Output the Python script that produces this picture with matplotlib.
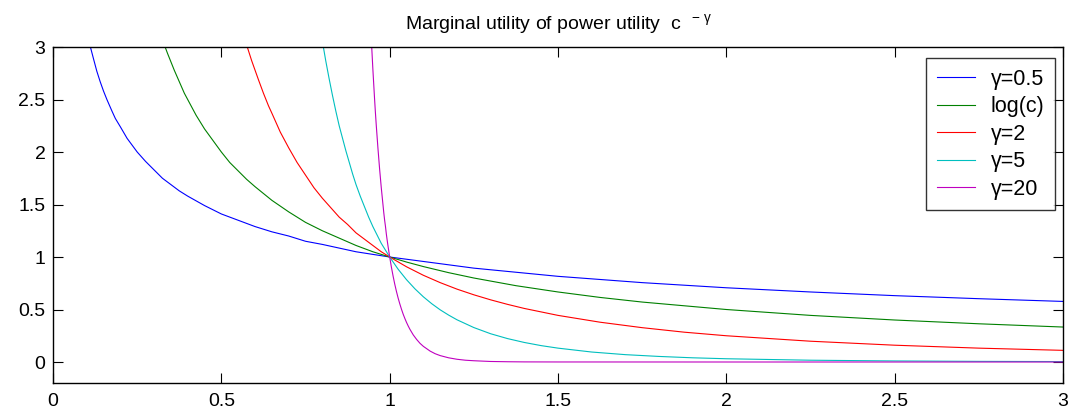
import matplotlib
matplotlib.use("Agg")
import matplotlib.pyplot as plt

plt.rcParams['font.family'] = ['Liberation Sans', 'DejaVu Sans']
plt.rcParams['mathtext.fontset'] = 'custom'
plt.rcParams['mathtext.rm'] = 'Liberation Sans'
plt.rcParams['mathtext.it'] = 'Liberation Sans'

# values: c on the x axis, marginal utility on the y axis
c_05 = [0.111, 0.12, 0.13, 0.14, 0.15, 0.16, 0.175, 0.185, 0.2, 0.22, 0.25, 0.275, 0.3, 0.325,
        0.35, 0.375, 0.4, 0.45, 0.5, 0.55, 0.6, 0.65, 0.7, 0.75, 0.8, 0.9, 1.0, 1.25, 1.5, 1.75,
        2.0, 2.25, 2.5, 2.75, 3.0]
u_05 = [3.00, 2.89, 2.77, 2.67, 2.58, 2.50, 2.39, 2.32, 2.24, 2.13, 2.00, 1.91, 1.83, 1.75,
        1.69, 1.63, 1.58, 1.49, 1.41, 1.35, 1.29, 1.24, 1.20, 1.15, 1.12, 1.05, 1.00, 0.894, 0.816, 0.756,
        0.707, 0.667, 0.632, 0.603, 0.577]

c_log = [0.333, 0.34, 0.35, 0.36, 0.375, 0.39, 0.4, 0.425, 0.45, 0.475, 0.5, 0.525, 0.55, 0.575,
         0.6, 0.65, 0.7, 0.75, 0.8, 0.85, 0.9, 0.95, 1.0, 1.05, 1.1, 1.175, 1.25, 1.375, 1.5, 1.625,
         1.75, 2.0, 2.25, 2.5, 2.75, 3.0]
u_log = [3.00, 2.94, 2.86, 2.78, 2.67, 2.56, 2.50, 2.35, 2.22, 2.11, 2.00, 1.90, 1.82, 1.74,
         1.67, 1.54, 1.43, 1.33, 1.25, 1.18, 1.11, 1.05, 1.00, 0.952, 0.909, 0.851, 0.80, 0.727, 0.667, 0.615,
         0.571, 0.50, 0.444, 0.40, 0.364, 0.333]

c_2 = [0.577, 0.59, 0.6, 0.61, 0.625, 0.64, 0.65, 0.675, 0.7, 0.725, 0.75, 0.775, 0.8, 0.825,
       0.85, 0.875, 0.9, 0.925, 0.95, 0.975, 1.0, 1.05, 1.1, 1.15, 1.2, 1.25, 1.3, 1.35, 1.4, 1.5,
       1.625, 1.75, 1.875, 2.0, 2.25, 2.5, 2.75, 3.0]
u_2 = [3.00, 2.87, 2.78, 2.69, 2.56, 2.44, 2.37, 2.19, 2.04, 1.90, 1.78, 1.66, 1.56, 1.47,
       1.38, 1.31, 1.23, 1.17, 1.11, 1.05, 1.00, 0.907, 0.826, 0.756, 0.694, 0.64, 0.592, 0.549, 0.510, 0.444,
       0.379, 0.327, 0.284, 0.25, 0.198, 0.16, 0.132, 0.111]

c_5 = [0.803, 0.81, 0.82, 0.83, 0.84, 0.85, 0.86, 0.87, 0.88, 0.89, 0.9, 0.9125, 0.925, 0.9375,
       0.95, 0.9625, 0.975, 0.9875, 1.0, 1.025, 1.05, 1.075, 1.1, 1.125, 1.15, 1.175, 1.2, 1.25,
       1.3, 1.35, 1.4, 1.45, 1.5, 1.6, 1.7, 1.8, 1.9, 2.0, 2.25, 2.5, 2.75, 3.0]
u_5 = [3.00, 2.87, 2.70, 2.54, 2.39, 2.25, 2.13, 2.01, 1.90, 1.79, 1.69, 1.58, 1.48, 1.38,
       1.29, 1.21, 1.13, 1.065, 1.00, 0.884, 0.784, 0.697, 0.621, 0.555, 0.497, 0.447, 0.402, 0.328,
       0.269, 0.223, 0.186, 0.156, 0.132, 0.095, 0.070, 0.053, 0.040, 0.031, 0.017, 0.010, 0.006, 0.004]

c_20 = [0.9466, 0.95, 0.9525, 0.955, 0.9575, 0.96, 0.9625, 0.965, 0.9675, 0.97, 0.9725, 0.975,
        0.9775, 0.98, 0.9825, 0.985, 0.9875, 0.99, 0.9925, 0.995, 1.0, 1.005, 1.01, 1.015, 1.02,
        1.025, 1.03, 1.035, 1.04, 1.045, 1.05, 1.055, 1.06, 1.07, 1.08, 1.09, 1.1, 1.12, 1.135,
        1.15, 1.175, 1.2, 1.225, 1.25, 1.3, 1.35, 1.4, 1.5, 2.0, 3.0]
u_20 = [3.00, 2.79, 2.65, 2.51, 2.38, 2.26, 2.15, 2.04, 1.94, 1.84, 1.75, 1.66,
        1.58, 1.50, 1.42, 1.35, 1.29, 1.22, 1.16, 1.105, 1.00, 0.905, 0.820, 0.742, 0.673,
        0.610, 0.554, 0.503, 0.456, 0.415, 0.377, 0.343, 0.312, 0.258, 0.215, 0.178, 0.149, 0.104, 0.079,
        0.061, 0.040, 0.026, 0.017, 0.012, 0.005, 0.0025, 0.001, 0.0003, 0.0, 0.0]

labels = ['\u03b3=0.5', 'log(c)', '\u03b3=2', '\u03b3=5', '\u03b3=20']
colors = ['#0000ff', '#008000', '#ff0000', '#00bfbf', '#bf00bf']
ticks = [0, 0.5, 1, 1.5, 2, 2.5, 3]
tick_labels = ['0', '0.5', '1', '1.5', '2', '2.5', '3']

fig = plt.figure(figsize=(10.76, 4.2), dpi=100)
ax = fig.add_axes([0.0493, 0.0881, 0.9386, 0.7999])

series = [(c_05, u_05), (c_log, u_log), (c_2, u_2), (c_5, u_5), (c_20, u_20)]
for (cx, uy), lab, col in zip(series, labels, colors):
    ax.plot(cx, uy, color=col, lw=0.8, label=lab)

ax.set_xlim(0, 3)
ax.set_ylim(-0.2, 3)
ax.set_xticks(ticks)
ax.set_xticklabels(tick_labels)
ax.set_yticks(ticks)
ax.set_yticklabels(tick_labels)
ax.tick_params(direction='in', length=7, width=0.8, top=True, right=True, labelsize=14)
ax.tick_params(axis='x', pad=7)
ax.tick_params(axis='y', pad=5.5)
for s in ax.spines.values():
    s.set_linewidth(1.0)

ax.set_title('Marginal utility of power utility  c  $^{-\\ \\gamma}$', fontsize=14, pad=13)

leg = ax.legend(loc='upper right', bbox_to_anchor=(0.9921, 0.967), borderaxespad=0,
                fontsize=15.5, frameon=True, fancybox=False, handlelength=1.8,
                labelspacing=0.3, borderpad=0.5, handletextpad=0.7)
leg.get_frame().set_edgecolor('black')
leg.get_frame().set_linewidth(1.0)

plt.savefig('out.png', dpi=100)
